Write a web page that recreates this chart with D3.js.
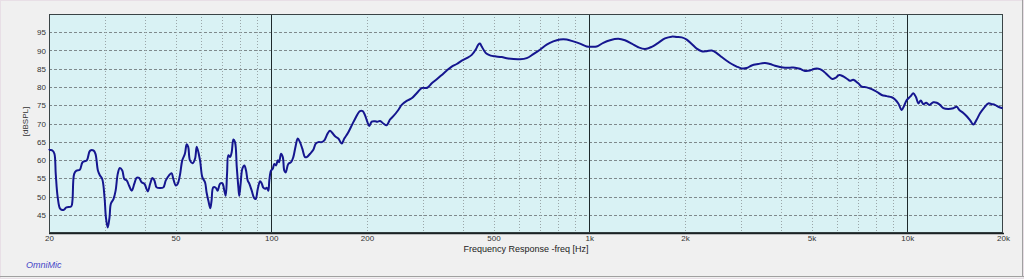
<!DOCTYPE html>
<html>
<head>
<meta charset="utf-8">
<script src="https://cdn.jsdelivr.net/npm/d3@7"></script>
<style>
html,body{margin:0;padding:0;background:#f0f0f0;}
svg{display:block;}
</style>
</head>
<body>
<svg id="chart" width="1024" height="279"></svg>
<script>
// ---- data ----
const freqHz = [20,20.1,20.5,20.8,21.0,21.3,21.7,22.2,22.7,23.5,23.7,24.0,24.4,25.0,25.5,26.3,26.9,27.6,28.0,28.5,28.9,29.4,29.9,30.2,30.6,31.0,31.3,31.9,32.4,32.9,33.4,34.0,34.5,35.1,35.7,36.4,37.1,37.7,38.4,39.1,39.9,40.9,41.6,42.3,42.9,43.6,44.7,45.8,46.6,47.7,48.6,49.2,50.1,50.8,51.6,52.5,53.5,54.2,54.8,55.5,56.6,57.6,58.3,59.7,60.7,61.9,62.6,63.4,64.3,64.9,65.7,66.9,67.8,69.0,70.2,71.2,71.9,72.6,73.3,74.2,75.1,76.0,76.9,77.9,78.8,79.3,80.1,81.1,82.3,83.3,84.3,85.3,86.8,88.3,89.3,90.7,92.2,93.3,94.4,95.6,96.8,97.9,98.6,99.8,101.1,102.2,103.5,104.8,105.8,107.3,108.7,109.9,111.0,113.1,115.4,117.3,119.4,121.1,123.1,125.2,127.7,129.3,132.4,135.6,138.0,140.6,144.1,146.8,150.5,153.0,155.6,158.7,162.5,166.6,169.7,174.0,178.2,182.5,190.1,193.9,197.1,200.4,203.3,207.0,212.0,215.6,219.8,225.2,230.7,236.3,242.0,250.9,257.1,266.6,276.4,286.6,297.2,309.6,319.7,331.5,343.7,356.3,369.4,383.0,397.2,411.8,427.0,440.4,447.7,453.3,459.0,466.7,475.9,489.8,505.3,530.4,556.4,605.5,635.6,666.8,699.8,734.6,770.6,808.9,849.1,890.7,934.9,981.5,1017.7,1055.3,1107,1162,1234,1295,1360,1426,1497,1572,1648,1730,1816,1884,1953,2025,2100,2177,2257,2340,2427,2516,2609,2705,2805,2908,3015,3126,3241,3400,3569,3701,3837,3978,4126,4277,4435,4598,4768,4943,5125,5314,5470,5643,5809,5967,6111,6291,6476,6605,6763,7015,7190,7455,7730,8016,8312,8617,8934,9152,9373,9606,9768,9961,10253,10449,10656,10835,11025,11236,11459,11734,12078,12379,12679,12986,13460,13960,14308,14580,15008,15378,15752,16134,16536,16936,17434,17985,18433,18872,19330,19958];
const splDb = [63.0,62.8,62.6,61.7,56.2,49.8,46.6,46.3,47.0,47.3,48.9,56.2,57.1,57.3,59.4,59.9,62.5,62.6,61.7,57.1,55.8,54.8,49.8,44.3,41.5,44.3,48.0,49.3,51.6,56.2,57.8,57.1,54.8,54.4,53.0,51.6,53.5,55.1,55.1,53.9,53.5,51.4,53.5,55.1,54.4,52.5,52.3,52.5,54.4,55.8,56.4,54.8,53.0,53.5,55.8,59.9,61.7,64.3,63.6,59.9,59.1,60.4,63.6,59.9,55.3,53.9,51.1,48.9,46.8,48.9,52.5,52.4,51.6,53.5,53.6,51.6,50.2,56.2,61.3,60.8,62.2,65.6,64.9,58.0,52.5,50.2,53.5,57.6,58.5,57.1,54.4,53.5,51.6,49.6,49.3,52.1,54.2,53.6,52.4,52.1,52.4,51.6,54.4,57.1,57.6,58.9,58.5,59.9,59.4,61.7,60.8,57.1,56.6,58.9,59.4,60.8,64.0,65.9,64.9,63.1,60.8,60.8,61.7,62.8,64.5,64.9,64.9,65.4,67.3,68.0,67.4,66.5,65.9,64.5,65.9,67.3,69.1,70.9,73.4,73.4,72.3,70.5,69.3,70.5,70.6,70.5,70.7,70.0,69.5,71.1,72.0,73.7,75.1,76.2,76.9,78.3,79.7,79.8,81.0,82.1,83.3,84.5,85.6,86.3,87.2,87.9,88.8,90.4,91.6,91.9,91.1,90.0,89.1,88.6,88.4,88.2,87.8,87.6,87.9,89.0,90.2,91.6,92.5,93.0,93.0,92.5,91.9,91.1,91.0,91.1,92.1,92.8,93.2,92.8,91.9,90.9,90.4,91.0,92.1,93.3,93.8,93.7,93.6,93.0,91.8,90.5,89.8,89.8,90.0,89.3,88.2,87.2,86.3,85.6,85.1,85.2,85.9,86.3,86.6,86.3,85.8,85.5,85.3,85.3,85.3,85.0,84.4,84.5,85.0,84.9,84.2,83.1,82.2,82.6,83.3,82.9,82.2,81.7,82.0,81.0,80.1,79.9,79.4,78.7,77.8,77.5,77.2,76.6,75.5,73.7,74.8,76.4,77.5,78.3,77.2,75.5,76.3,75.3,75.7,75.1,75.8,75.7,75.1,74.2,74.0,74.2,74.6,73.7,72.9,72.0,70.9,69.7,71.1,72.8,74.3,75.5,75.3,75.1,74.6,74.2];
const yTicks = [45,50,55,60,65,70,75,80,85,90,95];
const xTickValues = [20,50,100,200,500,1000,2000,5000,10000,20000];
const xTickLabels = ["20","50","100","200","500","1k","2k","5k","10k","20k"];
const minorGrid = [30,40,50,60,70,80,90,200,300,400,500,600,700,800,900,2000,3000,4000,5000,6000,7000,8000,9000];
const majorGrid = [100,1000,10000];
const yLabel = "[dBSPL]";
const xLabel = "Frequency Response -freq [Hz]";
const brand = "OmniMic";

// ---- layout ----
const W = 1024, H = 279;
const plot = {left: 49, top: 14, right: 1003, bottom: 233};
const svg = d3.select("#chart");
const font = "'Liberation Sans', Arial, sans-serif";

// outer frame
svg.append("rect").attr("x",0).attr("y",0).attr("width",W).attr("height",H).attr("fill","#f0f0f0");
svg.append("rect").attr("x",0.5).attr("y",0.5).attr("width",W-1).attr("height",H-1)
  .attr("fill","none").attr("stroke","#e8dfe6");
svg.append("line").attr("x1",0).attr("x2",W).attr("y1",276.5).attr("y2",276.5).attr("stroke","#a0a0a0");
svg.append("line").attr("x1",1022.5).attr("x2",1022.5).attr("y1",0).attr("y2",277).attr("stroke","#a0a0a0");

const x = d3.scaleLog().domain([20,20000]).range([plot.left, plot.right]);
const y = d3.scaleLinear().domain([40,100]).range([plot.bottom, plot.top]);

// plot background
svg.append("rect").attr("x",plot.left).attr("y",plot.top)
  .attr("width",plot.right-plot.left).attr("height",plot.bottom-plot.top)
  .attr("fill","#d9f2f4");

// horizontal dashed grid
svg.append("g").selectAll("line").data(yTicks).join("line")
  .attr("x1",plot.left).attr("x2",plot.right)
  .attr("y1",d=>Math.round(y(d))+0.5).attr("y2",d=>Math.round(y(d))+0.5)
  .attr("stroke","#7f8a8c").attr("stroke-dasharray","3,2").attr("stroke-width",1);

// vertical minor dotted grid
svg.append("g").selectAll("line").data(minorGrid).join("line")
  .attr("x1",d=>Math.round(x(d))+0.5).attr("x2",d=>Math.round(x(d))+0.5)
  .attr("y1",plot.top).attr("y2",plot.bottom)
  .attr("stroke","#9aa6a8").attr("stroke-dasharray","1,2").attr("stroke-width",1);

// vertical major solid
svg.append("g").selectAll("line").data(majorGrid).join("line")
  .attr("x1",d=>Math.round(x(d))+0.5).attr("x2",d=>Math.round(x(d))+0.5)
  .attr("y1",plot.top).attr("y2",plot.bottom)
  .attr("stroke","#1e2a2c").attr("stroke-width",1);

// plot border
svg.append("rect").attr("x",plot.left+0.5).attr("y",plot.top+0.5)
  .attr("width",plot.right-plot.left-1).attr("height",plot.bottom-plot.top-1)
  .attr("fill","none").attr("stroke","#3a4446").attr("stroke-width",1);
svg.append("line").attr("x1",plot.left).attr("x2",plot.right+1)
  .attr("y1",plot.bottom+0.5).attr("y2",plot.bottom+0.5).attr("stroke","#1b2224").attr("stroke-width",1.5);

// axes (labels only)
const yAxis = d3.axisLeft(y).tickValues(yTicks).tickSize(0).tickPadding(3);
const gy = svg.append("g").attr("transform",`translate(${plot.left},0)`).call(yAxis);
gy.select(".domain").remove();
gy.selectAll("text").attr("font-family",font).attr("font-size",8).attr("fill","#333");

const xAxis = d3.axisBottom(x).tickValues(xTickValues)
  .tickFormat((d,i)=>xTickLabels[i]).tickSize(0).tickPadding(2);
const gx = svg.append("g").attr("transform",`translate(0,${plot.bottom})`).call(xAxis);
gx.select(".domain").remove();
gx.selectAll("text").attr("font-family",font).attr("font-size",8).attr("fill","#333");

// curve
const data = freqHz.map((f,i)=>({f, v: splDb[i]}));
svg.append("path").datum(data)
  .attr("fill","none").attr("stroke","#15168f").attr("stroke-width",2)
  .attr("stroke-linejoin","round")
  .attr("d", d3.line().x(d=>x(d.f)).y(d=>y(d.v)).curve(d3.curveCatmullRom));

// titles
svg.append("text").attr("x",(plot.left+plot.right)/2).attr("y",252)
  .attr("text-anchor","middle").attr("font-family",font).attr("font-size",9).attr("fill","#222")
  .text(xLabel);
svg.append("text").attr("transform",`translate(28,${(plot.top+plot.bottom)/2-2}) rotate(-90)`)
  .attr("text-anchor","middle").attr("font-family",font).attr("font-size",8).attr("fill","#333")
  .text(yLabel);
svg.append("text").attr("x",26).attr("y",268)
  .attr("font-family",font).attr("font-size",9).attr("font-style","italic").attr("fill","#4646c8")
  .text(brand);
</script>
</body>
</html>
